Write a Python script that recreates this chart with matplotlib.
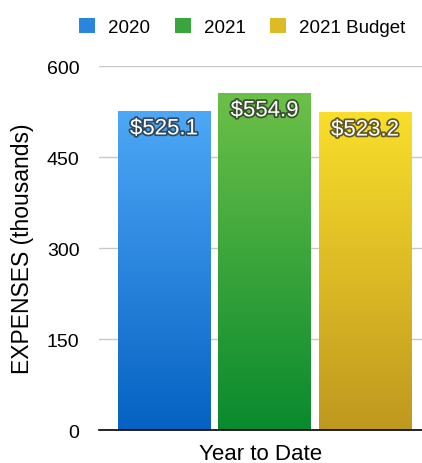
import numpy as np
import matplotlib
matplotlib.use('Agg')
import matplotlib.pyplot as plt
import matplotlib.patheffects as pe
from matplotlib.colors import LinearSegmentedColormap
from matplotlib.patches import Patch

series = ['2020', '2021', '2021 Budget']
values = [525.1, 554.9, 523.2]
category = 'Year to Date'
top_colors = ['#4ea8f7', '#6cc048', '#f9de2b']
bottom_colors = ['#0562c2', '#098a2e', '#bf981f']
yticks = [0, 150, 300, 450, 600]

plt.rcParams['font.family'] = ['Liberation Sans', 'DejaVu Sans']

fig = plt.figure(figsize=(4.22, 4.64), dpi=100)
ax = fig.add_axes([0.2346, 0.0711, 0.7654, 0.7845])

pos = np.array([-1, 0, 1])
bars = ax.bar(pos, values, width=0.92, color='none', zorder=2)

grad = np.linspace(0, 1, 256).reshape(-1, 1)
for b, c_top, c_bot in zip(bars, top_colors, bottom_colors):
    cmap = LinearSegmentedColormap.from_list('g', [c_bot, c_top])
    x0, y0 = b.get_x(), b.get_y()
    ax.imshow(grad, cmap=cmap, aspect='auto', origin='lower',
              extent=[x0, x0 + b.get_width(), y0, y0 + b.get_height()], zorder=2)

for p, v in zip(pos, values):
    ax.annotate(f'${v:.1f}', (p, v), xytext=(0, -5), textcoords='offset points',
                ha='center', va='top', color='white', fontsize=16,
                path_effects=[pe.withStroke(linewidth=2.5, foreground='#222222', alpha=0.7)],
                zorder=4)

ax.set_xlim(-1.647, 1.567)
ax.set_ylim(0, 600)
ax.set_yticks(yticks)
ax.set_yticklabels([str(t) for t in yticks], fontsize=14)
ax.set_xticks([0])
ax.set_xticklabels([''])
ax.tick_params(axis='y', length=0, pad=14)
ax.tick_params(axis='x', length=0, pad=0)
ax.set_xlabel(category, fontsize=16, labelpad=9)
ax.set_ylabel('EXPENSES (thousands)', fontsize=16.5, labelpad=9)
ax.grid(axis='y', color='#c8c8c8', linewidth=1, zorder=0)
ax.set_axisbelow(True)
for s in ['top', 'right', 'left']:
    ax.spines[s].set_visible(False)
ax.spines['bottom'].set_color('black')
ax.spines['bottom'].set_linewidth(1.2)
ax.spines['bottom'].set_zorder(5)

handles = [Patch(facecolor=c, edgecolor='none') for c in ['#2a86dc', '#3aa53c', '#dcbc25']]
fig.legend(handles, series, loc='upper center', bbox_to_anchor=(0.574, 0.995), ncol=3,
           frameon=False, fontsize=13.5, handlelength=0.85, handleheight=0.85,
           handletextpad=0.7, columnspacing=1.3)

fig.savefig('out.png', dpi=100)
